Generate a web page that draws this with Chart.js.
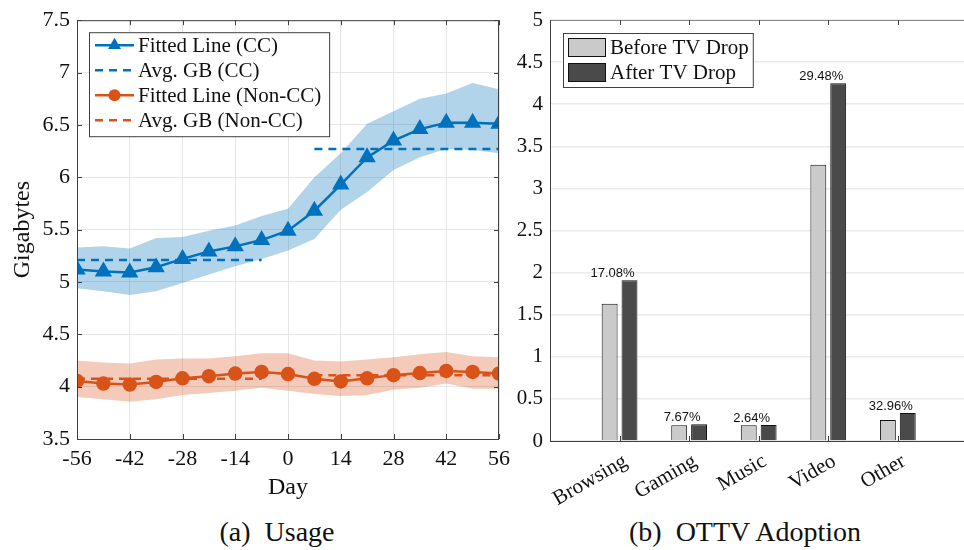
<!DOCTYPE html>
<html>
<head>
<meta charset="utf-8">
<script src="https://cdn.jsdelivr.net/npm/chart.js"></script>
<style>
  html, body { margin:0; padding:0; background:#fff; width:964px; height:550px; overflow:hidden; }
  #usage { position:absolute; left:0; top:0; }
  #adopt { position:absolute; left:500px; top:0; }
  .cap { position:absolute; top:516px; font-family:"Liberation Serif", "DejaVu Serif", "Noto Serif", serif; font-size:28px; color:#111; white-space:pre; transform:translateX(-50%); }
</style>
</head>
<body>
<canvas id="usage" width="520" height="510"></canvas>
<canvas id="adopt" width="480" height="510"></canvas>
<div class="cap" style="left:277px">(a)  Usage</div>
<div class="cap" style="left:745px">(b)  OTTV Adoption</div>
<script>
/* ── Data: (a) Usage ── */
const days      = [-56, -49, -42, -35, -28, -21, -14, -7, 0, 7, 14, 21, 28, 35, 42, 49, 56];
const ccFit     = [5.12, 5.10, 5.09, 5.14, 5.22, 5.29, 5.34, 5.40, 5.49, 5.68, 5.93, 6.19, 6.35, 6.46, 6.52, 6.52, 6.51];
const ccUpper   = [5.33, 5.34, 5.32, 5.42, 5.43, 5.49, 5.54, 5.63, 5.70, 6.00, 6.23, 6.51, 6.63, 6.75, 6.80, 6.90, 6.84];
const ccLower   = [4.94, 4.91, 4.875, 4.91, 4.99, 5.07, 5.15, 5.22, 5.30, 5.41, 5.69, 5.86, 6.07, 6.19, 6.27, 6.26, 6.23];
const nonFit    = [4.055, 4.03, 4.02, 4.045, 4.08, 4.10, 4.125, 4.14, 4.12, 4.075, 4.05, 4.08, 4.11, 4.13, 4.15, 4.14, 4.125];
const nonUpper  = [4.25, 4.23, 4.22, 4.26, 4.27, 4.27, 4.29, 4.32, 4.32, 4.25, 4.24, 4.26, 4.28, 4.31, 4.33, 4.29, 4.28];
const nonLower  = [3.90, 3.88, 3.855, 3.88, 3.92, 3.94, 3.96, 3.99, 3.96, 3.93, 3.91, 3.92, 3.97, 3.99, 4.03, 3.98, 3.98];
const avgDaysPre  = [-56, -7];
const avgDaysPost = [7, 56];
const ccAvg     = [5.21, 6.27];   // before / after
const nonAvg    = [4.075, 4.11];
const usageLabels = ['Fitted Line (CC)', 'Avg. GB (CC)', 'Fitted Line (Non-CC)', 'Avg. GB (Non-CC)'];

/* ── Data: (b) OTTV Adoption ── */
const categories = ['Browsing', 'Gaming', 'Music', 'Video', 'Other'];
const beforeDrop = [1.63, 0.186, 0.186, 3.28, 0.25];
const afterDrop  = [1.91, 0.20, 0.19, 4.25, 0.332];
const increase   = ['17.08%', '7.67%', '2.64%', '29.48%', '32.96%'];
const adoptLabels = ['Before TV Drop', 'After TV Drop'];

const BLUE = '#0072BD', ORANGE = '#D95319';
const SERIF = '"Liberation Serif", "DejaVu Serif", "Noto Serif", serif';
const AXIS = '#404040';
const fmt = v => String(+v.toFixed(2));

const pts = ys => days.map((d, i) => ({x: d, y: ys[i]}));
const avgPts = v => [
  ...avgDaysPre.map(d => ({x: d, y: v[0]})),
  {x: 0, y: null},
  ...avgDaysPost.map(d => ({x: d, y: v[1]}))
];

/* ── small marker helper for the legend ── */
function marker(ctx, style, x, y, r, color) {
  ctx.save();
  ctx.fillStyle = color;
  ctx.beginPath();
  if (style === 'triangle') {
    for (let k = 0; k < 3; k++) {
      const a = k * 2 * Math.PI / 3;
      const px = x + Math.sin(a) * r, py = y - Math.cos(a) * r;
      k ? ctx.lineTo(px, py) : ctx.moveTo(px, py);
    }
    ctx.closePath();
  } else {
    ctx.arc(x, y, r, 0, Math.PI * 2);
  }
  ctx.fill();
  ctx.restore();
}

/* ── box + inward ticks, MATLAB style ── */
const usageFrame = {
  id: 'usageFrame',
  afterDatasetsDraw(chart) {
    const {ctx, chartArea: a, scales: {x, y}} = chart;
    ctx.save();
    ctx.strokeStyle = AXIS;
    ctx.lineWidth = 1;
    ctx.strokeRect(a.left + 0.5, a.top + 0.5, a.right - a.left - 1, a.bottom - a.top);
    ctx.beginPath();
    x.ticks.forEach(t => {
      const px = Math.round(x.getPixelForValue(t.value)) + 0.5;
      ctx.moveTo(px, a.bottom); ctx.lineTo(px, a.bottom - 5);
      ctx.moveTo(px, a.top); ctx.lineTo(px, a.top + 5);
    });
    y.ticks.forEach(t => {
      const py = Math.round(y.getPixelForValue(t.value)) + 0.5;
      ctx.moveTo(a.left, py); ctx.lineTo(a.left + 5, py);
      ctx.moveTo(a.right, py); ctx.lineTo(a.right - 5, py);
    });
    ctx.stroke();
    ctx.restore();
  }
};

/* ── legend for (a) ── */
const usageLegend = {
  id: 'usageLegend',
  afterDraw(chart) {
    const {ctx, chartArea: a} = chart;
    const sets = chart.data.datasets.filter(d => !d.band);
    ctx.save();
    ctx.font = '21px ' + SERIF;
    const tw = Math.max(...sets.map(d => ctx.measureText(d.label).width));
    const bx = a.left + 12, by = a.top + 12, bw = 49 + tw + 8, bh = 104;
    ctx.fillStyle = '#fff';
    ctx.fillRect(bx, by, bw, bh);
    ctx.strokeStyle = AXIS;
    ctx.lineWidth = 1;
    ctx.strokeRect(bx + 0.5, by + 0.5, bw, bh);
    sets.forEach((d, i) => {
      const cy = by + 13 + i * 25;
      ctx.strokeStyle = d.borderColor;
      ctx.lineWidth = d.borderWidth;
      ctx.setLineDash(d.borderDash || []);
      ctx.beginPath();
      ctx.moveTo(bx + 6, cy); ctx.lineTo(bx + 45, cy);
      ctx.stroke();
      ctx.setLineDash([]);
      if (d.pointRadius) marker(ctx, d.pointStyle, bx + 25.5, cy, d.pointRadius, d.borderColor);
      ctx.fillStyle = '#111';
      ctx.textBaseline = 'middle';
      ctx.fillText(d.label, bx + 49, cy + 1);
    });
    ctx.restore();
  }
};

new Chart(document.getElementById('usage'), {
  type: 'line',
  data: {
    datasets: [
      { label: usageLabels[0], data: pts(ccFit), borderColor: BLUE, backgroundColor: BLUE, borderWidth: 2.5,
        pointStyle: 'triangle', pointRadius: 7.5, order: 0 },
      { label: usageLabels[1], data: avgPts(ccAvg), borderColor: BLUE, borderWidth: 2.5, borderDash: [8, 6],
        pointRadius: 0, spanGaps: false, order: 1 },
      { label: usageLabels[2], data: pts(nonFit), borderColor: ORANGE, backgroundColor: ORANGE, borderWidth: 2.5,
        pointStyle: 'circle', pointRadius: 6, order: 0 },
      { label: usageLabels[3], data: avgPts(nonAvg), borderColor: ORANGE, borderWidth: 2.5, borderDash: [8, 6],
        pointRadius: 0, spanGaps: false, order: 1 },
      { band: true, data: pts(ccUpper), borderWidth: 0, pointRadius: 0, fill: '+1', backgroundColor: 'rgba(0,114,189,0.3)', order: 2 },
      { band: true, data: pts(ccLower), borderWidth: 0, pointRadius: 0, fill: false, order: 2 },
      { band: true, data: pts(nonUpper), borderWidth: 0, pointRadius: 0, fill: '+1', backgroundColor: 'rgba(217,83,25,0.3)', order: 2 },
      { band: true, data: pts(nonLower), borderWidth: 0, pointRadius: 0, fill: false, order: 2 }
    ]
  },
  options: {
    responsive: false,
    animation: false,
    layout: { padding: { top: 15, right: 21, left: 0, bottom: 0 } },
    plugins: { legend: { display: false }, tooltip: { enabled: false } },
    scales: {
      x: {
        type: 'linear', min: -56, max: 56,
        afterFit: s => { s.height = 71; },
        ticks: { stepSize: 14, color: '#111', padding: 7, font: { family: SERIF, size: 22 } },
        grid: { color: '#e6e6e6', drawTicks: false },
        border: { display: false },
        title: { display: true, text: 'Day', color: '#111', font: { family: SERIF, size: 24 }, padding: { top: 0, bottom: 8 } }
      },
      y: {
        min: 3.5, max: 7.5,
        afterFit: s => { s.width = 77; },
        ticks: { stepSize: 0.5, color: '#111', padding: 7, font: { family: SERIF, size: 22 }, callback: fmt },
        grid: { color: '#e6e6e6', drawTicks: false },
        border: { display: false },
        title: { display: true, text: 'Gigabytes', color: '#111', font: { family: SERIF, size: 24 }, padding: { top: 8, bottom: 0 } }
      }
    }
  },
  plugins: [usageFrame, usageLegend]
});

/* ── (b) axes, labels and legend ── */
const adoptDecor = {
  id: 'adoptDecor',
  afterDatasetsDraw(chart) {
    const {ctx, chartArea: a, scales: {x}} = chart;
    const after = chart.getDatasetMeta(1).data;
    ctx.save();
    // axis lines
    ctx.lineWidth = 1;
    ctx.strokeStyle = '#8a8a8a';
    ctx.beginPath(); ctx.moveTo(a.left, a.top + 0.5); ctx.lineTo(a.right, a.top + 0.5); ctx.stroke();
    ctx.strokeStyle = AXIS;
    ctx.beginPath();
    ctx.moveTo(a.left + 0.5, a.top); ctx.lineTo(a.left + 0.5, a.bottom);
    ctx.moveTo(a.left, a.bottom + 0.5); ctx.lineTo(a.right, a.bottom + 0.5);
    categories.forEach((c, i) => {
      const px = Math.round(x.getPixelForValue(i + 1)) + 0.5;
      ctx.moveTo(px, a.top); ctx.lineTo(px, a.top + 5);
      ctx.moveTo(px, a.bottom); ctx.lineTo(px, a.bottom - 5);
    });
    ctx.stroke();
    // percent labels over each pair
    ctx.fillStyle = '#111';
    ctx.font = '13px "Liberation Sans", Arial, sans-serif';
    ctx.textAlign = 'center';
    ctx.textBaseline = 'alphabetic';
    increase.forEach((t, i) => {
      const bar = after[i + 1];
      ctx.fillText(t, x.getPixelForValue(i + 1) - 7, bar.y - 3);
    });
    ctx.restore();
  },
  afterDraw(chart) {
    const {ctx, chartArea: a} = chart;
    const sets = chart.data.datasets;
    ctx.save();
    ctx.font = '21px ' + SERIF;
    const tw = Math.max(...sets.map(d => ctx.measureText(d.label).width));
    const bx = a.left + 13, by = a.top + 13, bw = 47 + tw + 4, bh = 54;
    ctx.fillStyle = '#fff';
    ctx.fillRect(bx, by, bw, bh);
    ctx.strokeStyle = AXIS;
    ctx.lineWidth = 1;
    ctx.strokeRect(bx + 0.5, by + 0.5, bw, bh);
    sets.forEach((d, i) => {
      const cy = by + 14.5 + i * 25;
      ctx.fillStyle = d.backgroundColor;
      ctx.fillRect(bx + 5, cy - 9.5, 38, 19);
      ctx.strokeStyle = '#111';
      ctx.strokeRect(bx + 5.5, cy - 9, 37, 18);
      ctx.fillStyle = '#111';
      ctx.textBaseline = 'middle';
      ctx.fillText(d.label, bx + 47, cy + 1);
    });
    ctx.restore();
  }
};

new Chart(document.getElementById('adopt'), {
  type: 'bar',
  data: {
    labels: ['', ...categories, ''],
    datasets: [
      { label: adoptLabels[0], data: [null, ...beforeDrop, null], backgroundColor: '#cacaca', borderColor: '#111', borderWidth: 1 },
      { label: adoptLabels[1], data: [null, ...afterDrop, null], backgroundColor: '#4a4a4a', borderColor: '#111', borderWidth: 1 }
    ]
  },
  options: {
    responsive: false,
    animation: false,
    layout: { padding: { top: 20, right: 10, left: 0, bottom: 0 } },
    datasets: { bar: { categoryPercentage: 40 / 70, barPercentage: 0.8 } },
    plugins: { legend: { display: false }, tooltip: { enabled: false } },
    scales: {
      x: {
        offset: false,
        afterFit: s => { s.height = 69; },
        ticks: { autoSkip: false, minRotation: 30, maxRotation: 30, color: '#111', padding: 0, labelOffset: 6,
                 font: { family: SERIF, size: 21 } },
        grid: { display: false },
        border: { display: false }
      },
      y: {
        min: 0, max: 5,
        afterFit: s => { s.width = 50; },
        ticks: { stepSize: 0.5, color: '#111', padding: 7, font: { family: SERIF, size: 21 }, callback: fmt },
        grid: { color: '#ebebeb', lineWidth: 1.5, drawTicks: false },
        border: { display: false }
      }
    }
  },
  plugins: [adoptDecor]
});
</script>
</body>
</html>
